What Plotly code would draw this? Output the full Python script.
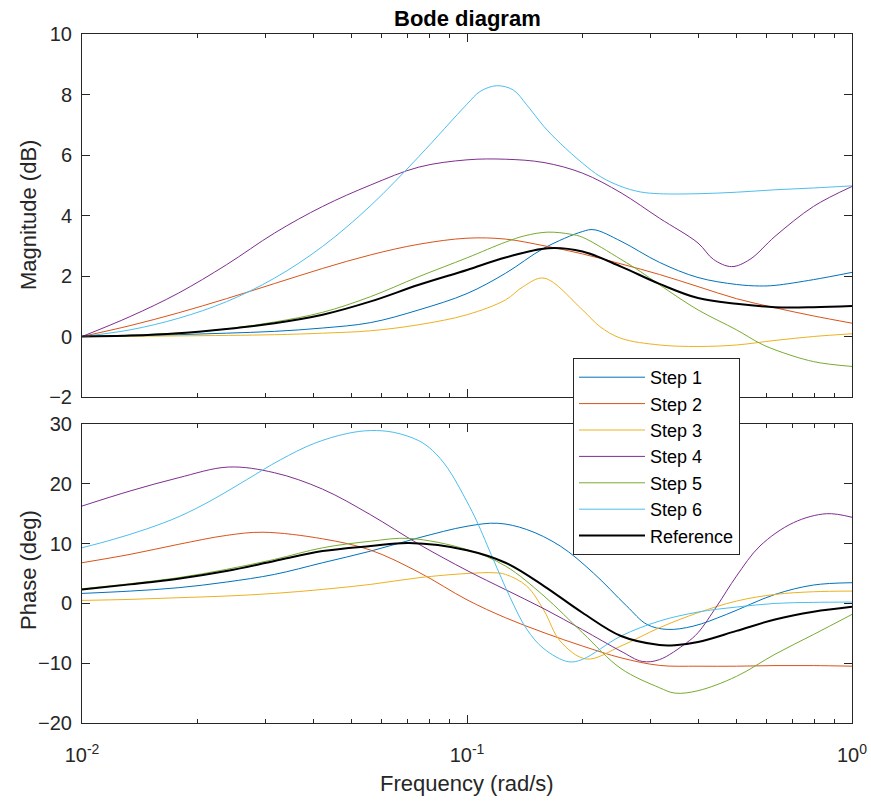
import plotly.graph_objects as go

# ---------------- data (log10 of frequency in rad/s, values) ----------------
names = ["Step 1", "Step 2", "Step 3", "Step 4", "Step 5", "Step 6", "Reference"]
colors = ["#0072BD", "#D95319", "#EDB120", "#7E2F8E", "#77AC30", "#4DBEEE", "#000000"]
widths = [1, 1, 1, 1, 1, 1, 2]

# Magnitude (dB)
mag_lf_1 = [-2, -1.875, -1.75, -1.625, -1.5, -1.375, -1.25, -1.125, -1, -0.9, -0.8, -0.7, -0.67, -0.6, -0.5, -0.4, -0.3, -0.24, -0.2, -0.1, 0]
mag_1 = [0, 0.02, 0.06, 0.11, 0.17, 0.28, 0.46, 0.88, 1.42, 2.09, 2.92, 3.47, 3.53, 3.15, 2.45, 1.95, 1.72, 1.67, 1.69, 1.88, 2.12]

mag_lf_2 = [-2, -1.875, -1.75, -1.625, -1.5, -1.375, -1.25, -1.125, -1, -0.9, -0.8, -0.7, -0.6, -0.5, -0.4, -0.3, -0.2, -0.1, 0]
mag_2 = [0, 0.36, 0.78, 1.25, 1.75, 2.25, 2.7, 3.05, 3.25, 3.22, 3.0, 2.73, 2.4, 2.05, 1.65, 1.25, 0.95, 0.68, 0.44]

mag_lf_3 = [-2, -1.75, -1.5, -1.375, -1.25, -1.125, -1, -0.9, -0.854, -0.8, -0.7, -0.655, -0.6, -0.5, -0.4, -0.3, -0.2, -0.1, 0]
mag_3 = [0, 0.02, 0.06, 0.11, 0.19, 0.39, 0.72, 1.21, 1.65, 1.93, 0.88, 0.33, -0.06, -0.28, -0.33, -0.28, -0.13, 0.0, 0.09]

mag_lf_4 = [-2, -1.875, -1.75, -1.625, -1.5, -1.375, -1.25, -1.125, -1, -0.9, -0.8, -0.7, -0.6, -0.5, -0.4, -0.36, -0.3125, -0.265, -0.2, -0.1, 0]
mag_4 = [0, 0.66, 1.43, 2.37, 3.42, 4.3, 5.01, 5.6, 5.84, 5.86, 5.75, 5.4, 4.75, 3.91, 3.09, 2.55, 2.31, 2.55, 3.31, 4.3, 4.96]

mag_lf_5 = [-2, -1.75, -1.625, -1.5, -1.375, -1.25, -1.125, -1, -0.9, -0.85, -0.79, -0.73, -0.7, -0.6, -0.55, -0.5, -0.4, -0.3, -0.24, -0.2, -0.1, 0]
mag_5 = [0, 0.11, 0.25, 0.48, 0.8, 1.32, 1.98, 2.6, 3.12, 3.33, 3.45, 3.38, 3.28, 2.55, 2.15, 1.71, 0.88, 0.22, -0.22, -0.44, -0.83, -0.99]

mag_lf_6 = [-2, -1.875, -1.75, -1.625, -1.5, -1.375, -1.25, -1.125, -1, -0.966, -0.923, -0.88, -0.845, -0.8, -0.758, -0.7, -0.654, -0.6, -0.55, -0.5, -0.4, -0.3, -0.2, -0.1, 0]
mag_6 = [0, 0.22, 0.6, 1.15, 1.93, 2.98, 4.33, 5.95, 7.68, 8.1, 8.29, 8.15, 7.66, 6.94, 6.39, 5.73, 5.29, 4.96, 4.78, 4.72, 4.72, 4.77, 4.85, 4.91, 4.98]

mag_lf_r = [-2, -1.875, -1.75, -1.625, -1.5, -1.375, -1.25, -1.125, -1, -0.9, -0.79, -0.7, -0.6, -0.5, -0.4, -0.3, -0.2, -0.1, 0]
mag_r = [0, 0.03, 0.11, 0.25, 0.44, 0.72, 1.16, 1.71, 2.2, 2.61, 2.92, 2.81, 2.31, 1.74, 1.27, 1.08, 0.97, 0.97, 1.01]

# Phase (deg)
ph_lf_1 = [-2, -1.875, -1.75, -1.625, -1.5, -1.375, -1.25, -1.125, -1, -0.92, -0.845, -0.758, -0.672, -0.585, -0.533, -0.48, -0.412, -0.326, -0.2, -0.1, 0]
ph_1 = [1.67, 2.06, 2.62, 3.57, 4.85, 6.8, 8.75, 10.98, 12.9, 13.4, 12.36, 9.6, 5.1, -0.45, -3.5, -4.35, -3.8, -1.84, 1.5, 3.07, 3.46]

ph_lf_2 = [-2, -1.875, -1.75, -1.625, -1.53, -1.375, -1.25, -1.125, -1, -0.9, -0.8, -0.7, -0.6, -0.5, -0.4, -0.3, -0.2, -0.1, 0]
ph_2 = [6.8, 8.2, 9.87, 11.37, 11.9, 10.8, 8.9, 5.2, 0.6, -2.4, -4.9, -7.13, -9.1, -10.37, -10.5, -10.5, -10.4, -10.4, -10.5]

ph_lf_3 = [-2, -1.875, -1.75, -1.625, -1.5, -1.375, -1.25, -1.125, -1, -0.93, -0.9, -0.845, -0.8, -0.758, -0.69, -0.6, -0.5, -0.4, -0.3, -0.2, -0.1, 0]
ph_3 = [0.5, 0.67, 0.95, 1.23, 1.67, 2.34, 3.18, 4.3, 5.0, 5.13, 4.85, 2.9, -1.2, -6.3, -9.3, -7.13, -4.07, -1.56, 0.39, 1.5, 1.95, 2.06]

ph_lf_4 = [-2, -1.875, -1.75, -1.62, -1.5, -1.375, -1.25, -1.125, -1, -0.9, -0.8, -0.7, -0.6, -0.545, -0.5, -0.43, -0.4, -0.351, -0.3, -0.239, -0.152, -0.066, 0]
ph_4 = [16.28, 18.8, 21.0, 22.8, 21.85, 19.1, 14.8, 9.9, 5.5, 2.3, -0.9, -4.4, -8.0, -9.7, -9.4, -6.6, -4.9, -0.45, 4.57, 9.6, 13.5, 15.0, 14.4]

ph_lf_5 = [-2, -1.875, -1.75, -1.625, -1.5, -1.375, -1.25, -1.15, -1, -0.9, -0.8, -0.7, -0.6, -0.5, -0.46, -0.4, -0.3, -0.2, -0.1, 0]
ph_5 = [2.45, 3.3, 4.3, 5.69, 7.36, 9.3, 10.4, 10.87, 9.0, 6.24, 1.23, -4.9, -10.9, -14.1, -15.0, -14.6, -12.2, -8.5, -5.2, -1.84]

ph_lf_6 = [-2, -1.919, -1.832, -1.745, -1.659, -1.572, -1.485, -1.399, -1.312, -1.251, -1.19, -1.125, -1.09, -1.05, -1, -0.975, -0.932, -0.888, -0.845, -0.8, -0.737, -0.7, -0.6, -0.5, -0.4, -0.3, -0.2, -0.1, 0]
ph_6 = [9.3, 10.7, 12.45, 14.6, 17.4, 20.7, 24.0, 26.7, 28.4, 28.9, 28.6, 27.2, 25.6, 22.6, 17.0, 13.8, 7.4, 1.0, -4.3, -7.6, -9.75, -9.36, -5.46, -2.95, -1.45, -0.61, 0.0, 0.17, 0.22]

ph_lf_r = [-2, -1.875, -1.75, -1.625, -1.5, -1.375, -1.25, -1.15, -1, -0.9, -0.8, -0.7, -0.6, -0.5, -0.46, -0.4, -0.3, -0.2, -0.1, 0]
ph_r = [2.34, 3.18, 4.12, 5.41, 7.08, 8.75, 9.59, 10.1, 8.9, 6.8, 2.9, -1.56, -5.46, -6.97, -7.0, -6.47, -4.6, -2.68, -1.39, -0.56]

mag_lf = [mag_lf_1, mag_lf_2, mag_lf_3, mag_lf_4, mag_lf_5, mag_lf_6, mag_lf_r]
mags = [mag_1, mag_2, mag_3, mag_4, mag_5, mag_6, mag_r]
ph_lf = [ph_lf_1, ph_lf_2, ph_lf_3, ph_lf_4, ph_lf_5, ph_lf_6, ph_lf_r]
phs = [ph_1, ph_2, ph_3, ph_4, ph_5, ph_6, ph_r]

x_tickvals = [0.01, 0.1, 1]
x_ticktext = ["10<sup>-2</sup>", "10<sup>-1</sup>", "10<sup>0</sup>"]
minor_vals = [k * 0.01 for k in range(2, 10)] + [k * 0.1 for k in range(2, 10)]

# ---------------- figure ----------------
FONT = "Liberation Sans, Arial, Helvetica, sans-serif"
AX = "#262626"
W, H = 871, 801

fig = go.Figure()
for i in range(len(names)):
    fig.add_trace(go.Scatter(
        x=[10 ** v for v in mag_lf[i]], y=mags[i], mode="lines", name=names[i],
        line=dict(color=colors[i], width=widths[i], shape="spline", smoothing=1.0),
        legendgroup=names[i], xaxis="x", yaxis="y", showlegend=True))
for i in range(len(names)):
    fig.add_trace(go.Scatter(
        x=[10 ** v for v in ph_lf[i]], y=phs[i], mode="lines", name=names[i],
        line=dict(color=colors[i], width=widths[i], shape="spline", smoothing=1.0),
        legendgroup=names[i], xaxis="x2", yaxis="y2", showlegend=False))

xdom = [82 / W, 852 / W]
common_x = dict(type="log", range=[-2, 0], domain=xdom, showline=True, linecolor=AX, linewidth=1,
                mirror="ticks", ticks="inside", ticklen=8, tickcolor=AX, showgrid=False, zeroline=False,
                automargin=False, tickvals=x_tickvals, ticktext=x_ticktext,
                minor=dict(ticks="inside", ticklen=4, tickcolor=AX, tickvals=minor_vals, showgrid=False),
                tickfont=dict(family=FONT, size=20, color=AX))
common_y = dict(showline=True, linecolor=AX, linewidth=1, mirror="ticks", ticks="inside", ticklen=8,
                tickcolor=AX, showgrid=False, zeroline=False, automargin=False, ticklabelstandoff=5,
                tickfont=dict(family=FONT, size=20, color=AX))

fig.update_layout(
    width=W, height=H, margin=dict(l=0, r=0, t=0, b=0, autoexpand=False),
    paper_bgcolor="white", plot_bgcolor="white",
    xaxis=dict(**common_x, anchor="y", showticklabels=False),
    xaxis2=dict(**common_x, anchor="y2", showticklabels=True, ticklabelstandoff=14),
    yaxis=dict(**common_y, domain=[1 - 397 / H, 1 - 34 / H], range=[-2, 10], dtick=2, tick0=0, anchor="x"),
    yaxis2=dict(**common_y, domain=[1 - 723 / H, 1 - 424 / H], range=[-20, 30], dtick=10, tick0=0, anchor="x2"),
    legend=dict(x=573 / W, y=1 - 358 / H, xanchor="left", yanchor="top", bgcolor="white",
                bordercolor=AX, borderwidth=1, font=dict(family=FONT, size=18, color="#000000"),
                tracegroupgap=0, itemwidth=66),
    showlegend=True,
    annotations=[
        dict(text="<b>Bode diagram</b>", x=467 / W, y=1 - 19 / H, xref="paper", yref="paper",
             xanchor="center", yanchor="middle", showarrow=False, font=dict(family=FONT, size=22, color="#000000")),
        dict(text="Magnitude (dB)", x=28 / W, y=1 - 215 / H, xref="paper", yref="paper", textangle=-90,
             xanchor="center", yanchor="middle", showarrow=False, font=dict(family=FONT, size=22, color=AX)),
        dict(text="Phase (deg)", x=28 / W, y=1 - 570 / H, xref="paper", yref="paper", textangle=-90,
             xanchor="center", yanchor="middle", showarrow=False, font=dict(family=FONT, size=22, color=AX)),
        dict(text="Frequency (rad/s)", x=467 / W, y=1 - 783 / H, xref="paper", yref="paper",
             xanchor="center", yanchor="middle", showarrow=False, font=dict(family=FONT, size=22, color=AX)),
    ],
)

fig.write_html("out.html")
